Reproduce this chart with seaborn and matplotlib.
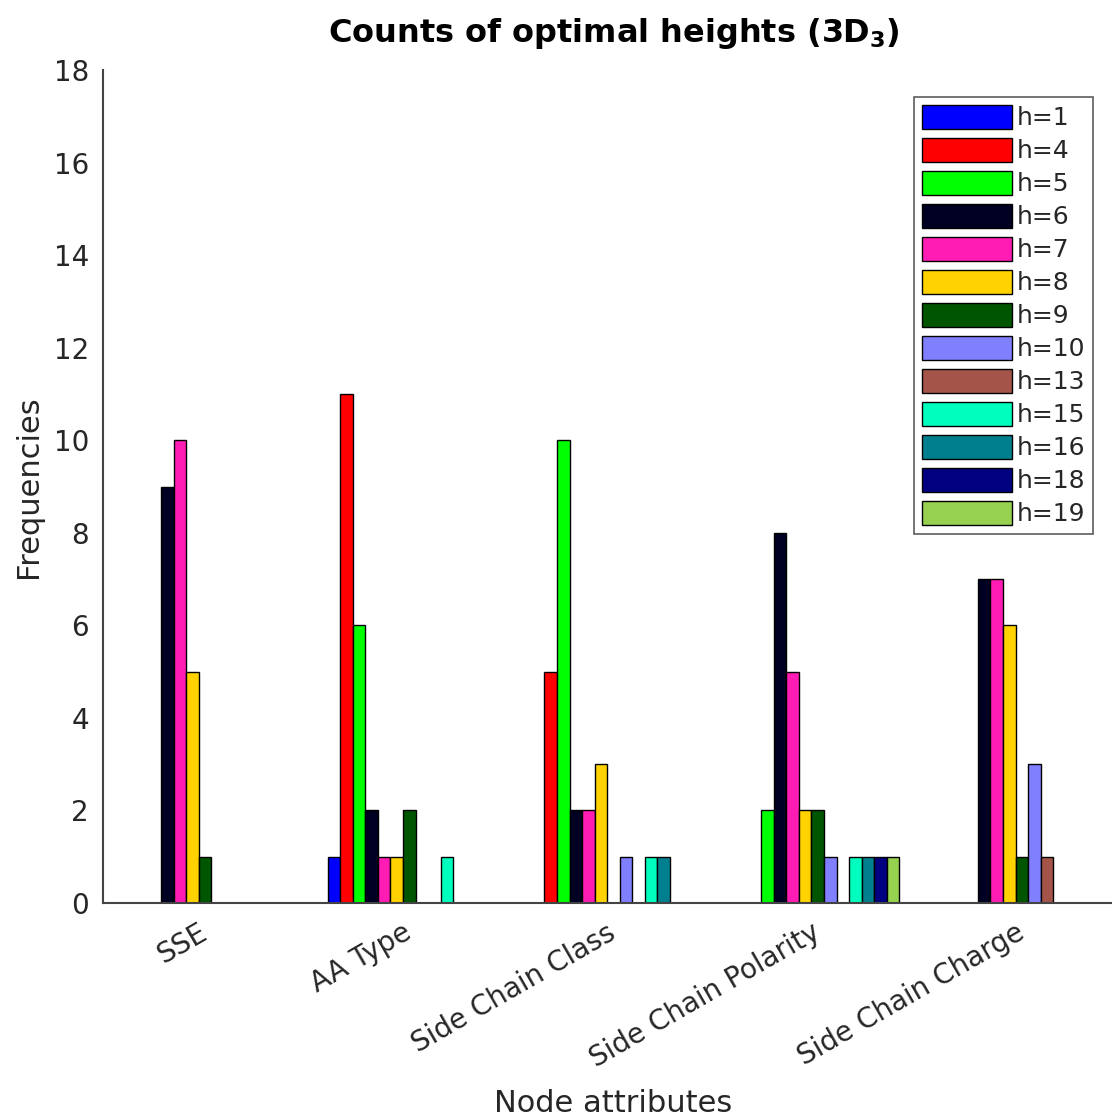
import numpy as np
import pandas as pd
import matplotlib
matplotlib.use('Agg')
import matplotlib.pyplot as plt
from matplotlib.patches import Patch
import seaborn as sns

# Node attributes on the x axis
attributes = ['SSE', 'AA Type', 'Side Chain Class', 'Side Chain Polarity', 'Side Chain Charge']

# optimal heights (legend entries)
heights = ['h=1', 'h=4', 'h=5', 'h=6', 'h=7', 'h=8', 'h=9', 'h=10', 'h=13', 'h=15', 'h=16', 'h=18', 'h=19']

# counts per attribute, one value per height above
sse_counts = [0, 0, 0, 9, 10, 5, 1, 0, 0, 0, 0, 0, 0]
aa_type_counts = [1, 11, 6, 2, 1, 1, 2, 0, 0, 1, 0, 0, 0]
class_counts = [0, 5, 10, 2, 2, 3, 0, 1, 0, 1, 1, 0, 0]
polarity_counts = [0, 0, 2, 8, 5, 2, 2, 1, 0, 1, 1, 1, 1]
charge_counts = [0, 0, 0, 7, 7, 6, 1, 3, 1, 0, 0, 0, 0]

bar_colors = ['#0000ff', '#ff0000', '#00ff00', '#000022', '#ff1cb4', '#ffd200',
              '#005500', '#8080ff', '#a5544a', '#00ffbf', '#00808f', '#000080', '#96d24f']

all_counts = [sse_counts, aa_type_counts, class_counts, polarity_counts, charge_counts]
rows = []
for attr, counts in zip(attributes, all_counts):
    for h, c in zip(heights, counts):
        rows.append({'Attribute': attr, 'Height': h, 'Count': c})
df = pd.DataFrame(rows)

sns.set_theme(style='white')
plt.rcParams['font.family'] = ['DejaVu Sans']

fig = plt.figure(figsize=(11.12, 11.19), dpi=100)
ax = fig.add_axes([103 / 1112, 1 - 903 / 1119, 1021 / 1112, 833 / 1119])

sns.barplot(data=df, x='Attribute', y='Count', hue='Height', order=attributes,
            hue_order=heights, palette=bar_colors, width=0.8, edgecolor='black',
            linewidth=1.0, saturation=1, legend=False, ax=ax)

# MATLAB doesn't draw empty bars
for p in ax.patches:
    if p.get_height() == 0:
        p.set_visible(False)

ax.set_xlim(-0.5, 4.5)
ax.set_ylim(0, 18)
ax.set_yticks(np.arange(0, 19, 2))
ax.tick_params(axis='both', length=0, labelsize=20, colors='#262626')
ax.tick_params(axis='y', pad=10)
ax.tick_params(axis='x', pad=20)
for lab in ax.get_xticklabels():
    lab.set_rotation(30)
    lab.set_ha('right')
    lab.set_va('center')
    lab.set_rotation_mode('anchor')

for side in ['top', 'right']:
    ax.spines[side].set_visible(False)
for side in ['left', 'bottom']:
    ax.spines[side].set_color('#444444')
    ax.spines[side].set_linewidth(1.5)

ax.set_title('Counts of optimal heights (3D$_\\mathbf{3}$)', fontsize=23, fontweight='bold',
             color='black', pad=20)
ax.set_ylabel('Frequencies', fontsize=22, color='#262626', labelpad=8)
ax.set_xlabel('Node attributes', fontsize=22, color='#262626', labelpad=11)

handles = [Patch(facecolor=c, edgecolor='black', linewidth=1.0, label=h)
           for c, h in zip(bar_colors, heights)]
leg = ax.legend(handles=handles, loc='upper right', bbox_to_anchor=(1093 / 1112, 1 - 97 / 1119),
                bbox_transform=fig.transFigure, fontsize=18, frameon=True, fancybox=False,
                handlelength=3.6, handleheight=1.1, labelspacing=0.30, handletextpad=0.2,
                borderpad=0.3, borderaxespad=0)
leg.get_frame().set_edgecolor('#333333')
leg.get_frame().set_linewidth(1.2)
for t in leg.get_texts():
    t.set_color('#262626')

fig.savefig('out.png', dpi=100)
plt.close(fig)
